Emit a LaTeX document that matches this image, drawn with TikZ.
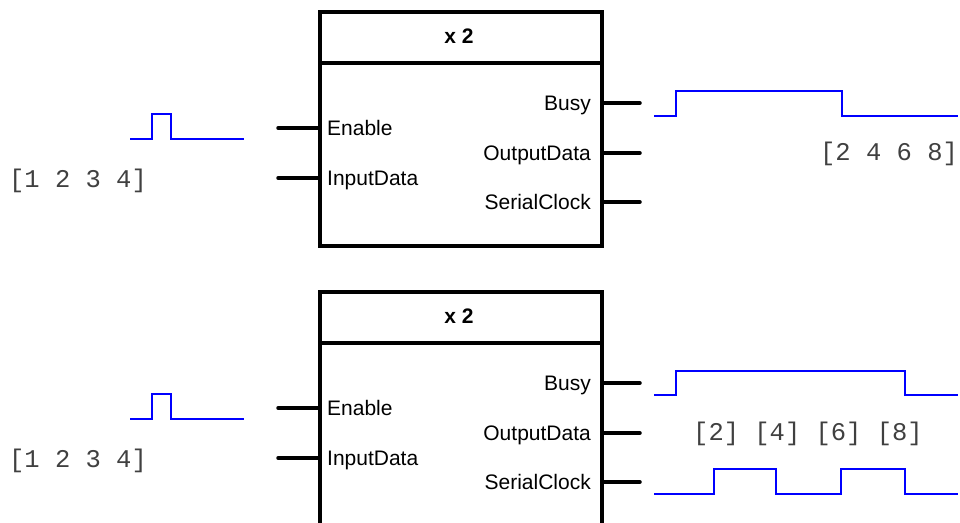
\documentclass[tikz,border=0pt]{standalone}
\usepackage{fontspec}
\setmainfont{Liberation Sans}
\newfontfamily\codefont{Liberation Mono}
\definecolor{sigblue}{RGB}{0,0,255}
\begin{document}
\begin{tikzpicture}[x=1pt,y=-1pt,
  blockbox/.style={draw, line width=4pt, rectangle, inner sep=0pt,
    minimum width=281.5pt, minimum height=234.5pt, anchor=north west},
  portline/.style={line width=3.5pt, line cap=round},
  portlabel/.style={inner sep=0pt, font=\fontsize{21}{25}\selectfont},
  titlelabel/.style={inner sep=0pt, font=\fontsize{21}{25}\selectfont\bfseries},
  valuelabel/.style={inner sep=0pt, font=\fontsize{25.5}{30}\codefont, text=black!75},
  wave/.style={draw=sigblue, line width=2.5pt}]

\useasboundingbox (0,0) rectangle (960,522);
\clip (0,0) rectangle (960,522);

\foreach \i/\dy in {1/0, 2/280} {
  % block body with its title bar
  \node[blockbox] (box\i) at (318, 9.5+\dy) {};
  \draw[line width=4pt] (box\i.west |- 0,62.5+\dy) -- (box\i.east |- 0,62.5+\dy);
  \node[titlelabel, anchor=base] (title\i) at (459, 43+\dy) {x 2};

  % input ports
  \coordinate (en\i) at (278, 128+\dy);
  \coordinate (in\i) at (278, 178+\dy);
  \draw[portline] (en\i) -- (en\i -| box\i.west);
  \draw[portline] (in\i) -- (in\i -| box\i.west);
  \node[portlabel, anchor=base west] (lblen\i) at (327, 135.5+\dy) {Enable};
  \node[portlabel, anchor=base west] (lblin\i) at (327, 185.5+\dy) {InputData};

  % output ports
  \coordinate (busy\i) at (640, 103+\dy);
  \coordinate (out\i)  at (640, 153+\dy);
  \coordinate (clk\i)  at (640, 202+\dy);
  \draw[portline] (busy\i) -- (busy\i -| box\i.east);
  \draw[portline] (out\i) -- (out\i -| box\i.east);
  \draw[portline] (clk\i) -- (clk\i -| box\i.east);
  \node[portlabel, anchor=base east] (lblbusy\i) at (591, 110.5+\dy) {Busy};
  \node[portlabel, anchor=base east] (lblout\i)  at (591, 160.5+\dy) {OutputData};
  \node[portlabel, anchor=base east] (lblclk\i)  at (591, 209.5+\dy) {SerialClock};

  % enable pulse and input vector
  \draw[wave] (130,139+\dy) -- (152,139+\dy) -- (152,114+\dy) -- (171,114+\dy)
    -- (171,139+\dy) -- (244,139+\dy);
  \node[valuelabel, anchor=base] (vin\i) at (78, 187+\dy) {[1 2 3 4]};
}

% parallel output: busy and the whole result at once
\draw[wave] (654,116) -- (676,116) -- (676,91) -- (842,91) -- (842,116) -- (958,116);
\node[valuelabel, anchor=base] (vout1) at (889, 160) {[2 4 6 8]};

% serial output: busy, one element per clock pulse
\draw[wave] (654,395) -- (676,395) -- (676,371) -- (905,371) -- (905,395) -- (958,395);
\node[valuelabel, anchor=base] (vout2) at (808, 440) {[2] [4] [6] [8]};
\draw[wave] (654,494) -- (714,494) -- (714,469) -- (776,469) -- (776,494)
  -- (841,494) -- (841,469) -- (905,469) -- (905,494) -- (958,494);
\end{tikzpicture}
\end{document}
